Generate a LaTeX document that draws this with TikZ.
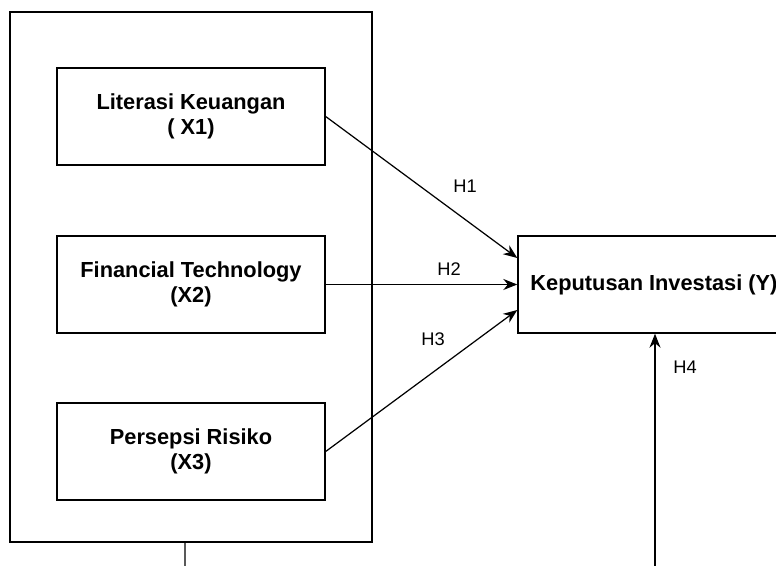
\documentclass[tikz,border=0pt]{standalone}
\usepackage{fontspec}
\setmainfont{Liberation Sans}
\usetikzlibrary{arrows.meta}

\begin{document}
\begin{tikzpicture}[
    varbox/.style={draw, line width=0.8pt, minimum width=5.36cm, minimum height=1.94cm, align=center, font=\fontsize{12.4}{14.6}\selectfont\bfseries},
    hyp/.style={font=\fontsize{10.4}{12}\selectfont},
    link/.style={-{Stealth[length=0.28cm, width=0.22cm]}, line width=0.7pt}
]
    \useasboundingbox (0,0) rectangle (15.52,-11.32);

    % Frame round the independent variables
    \node[draw, line width=0.8pt, minimum width=7.24cm, minimum height=10.6cm] (frame) at (3.82,-5.54) {};

    % X1
    \node[varbox] (literasi) at (3.82,-2.33) {Literasi Keuangan\\( X1)};

    % X2
    \node[varbox] (fintech) at (3.82,-5.69) {Financial Technology\\(X2)};

    % X3
    \node[varbox] (risiko) at (3.82,-9.03) {Persepsi Risiko\\(X3)};

    % Y
    \node[varbox, minimum width=5.44cm] (keputusan) at (13.08,-5.69) {Keputusan Investasi (Y)};

    % Hypothesis labels
    \node[hyp] (h1) at (9.3,-3.72) {H1};
    \node[hyp] (h2) at (8.98,-5.38) {H2};
    \node[hyp] (h3) at (8.66,-6.78) {H3};
    \node[hyp] (h4) at (13.7,-7.34) {H4};

    % Lines leaving the bottom of the picture
    \coordinate (framebelow) at (3.7,-11.6);
    \coordinate (h4below) at (13.1,-11.6);

    % Arrows
    \draw[link] (literasi.east) -- ([yshift=0.53cm]keputusan.west);
    \draw[link] (fintech.east) -- (keputusan.west);
    \draw[link] (risiko.east) -- ([yshift=-0.51cm]keputusan.west);
    \draw[link] (h4below) -- (h4below |- keputusan.south);
    \draw[line width=0.7pt] ([xshift=-0.12cm]frame.south) -- (framebelow);
\end{tikzpicture}
\end{document}
